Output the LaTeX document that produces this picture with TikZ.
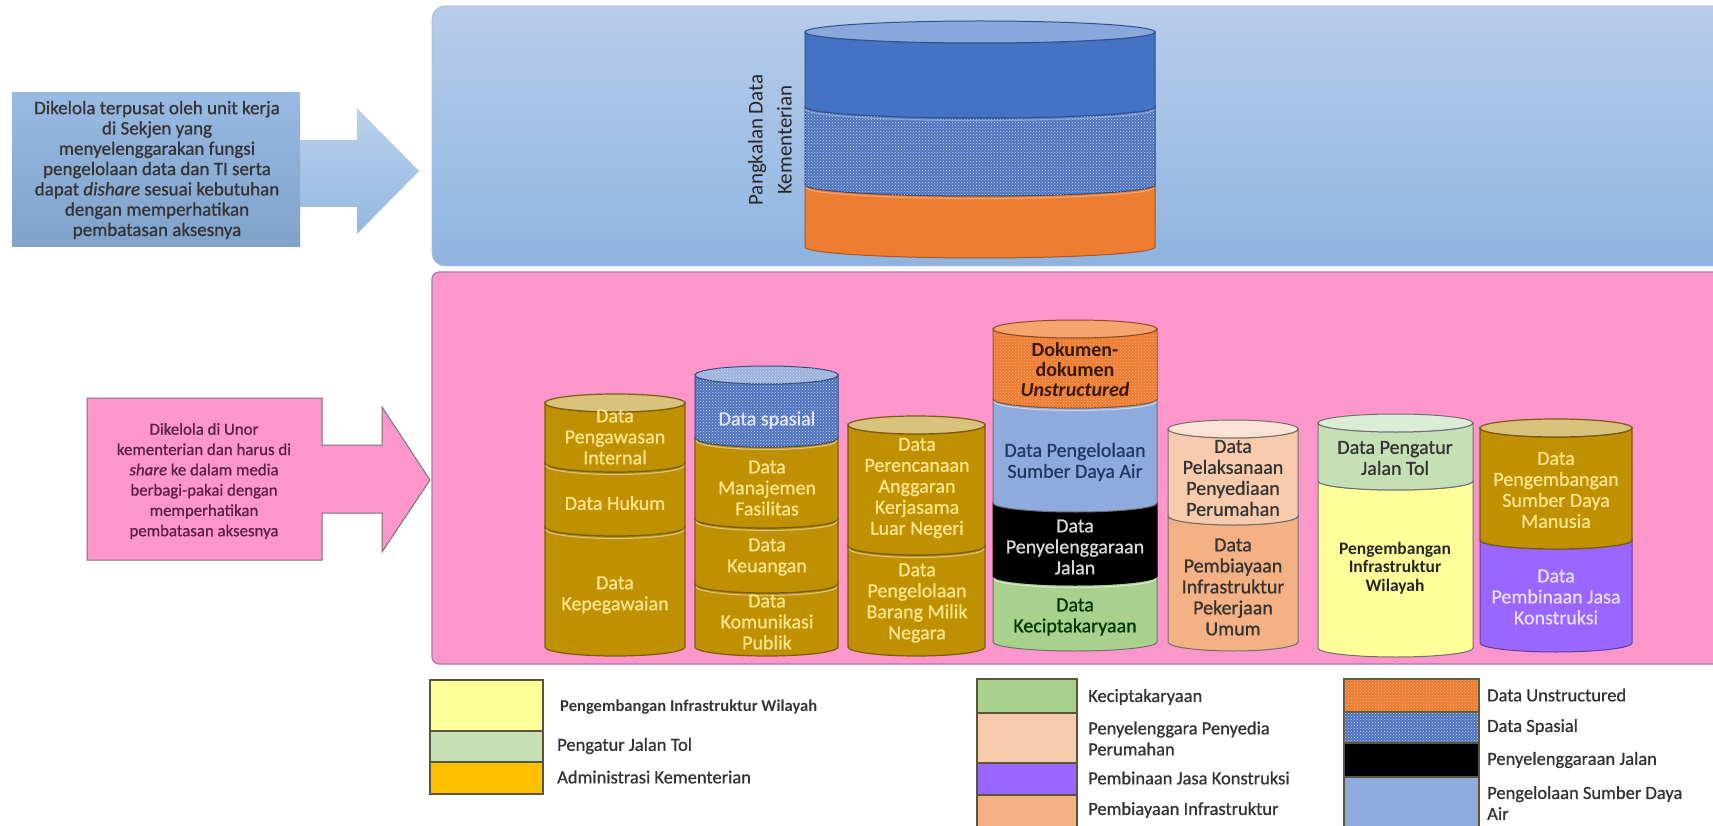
\documentclass[tikz,border=0pt]{standalone}
\usepackage{fontspec}
\setmainfont{Carlito}
\newfontfamily\medfont{Carlito}[FakeBold=0.8]
\usetikzlibrary{patterns}

% palette
\definecolor{panelTop}{HTML}{B7CDEA}
\definecolor{panelBot}{HTML}{8FB4E0}
\definecolor{pinkPanel}{HTML}{FD97CB}
\definecolor{pinkEdge}{HTML}{A07CA4}
\definecolor{pinkText}{HTML}{5A1E48}
\definecolor{goldBand}{HTML}{BF9000}
\definecolor{goldTop}{HTML}{D8C27C}
\definecolor{goldEdge}{HTML}{7A5C0A}
\definecolor{goldText}{HTML}{FFE58F}
\definecolor{goldLegend}{HTML}{FFC000}
\definecolor{darkBlue}{HTML}{4472C4}
\definecolor{darkBlueTop}{HTML}{8AA8DC}
\definecolor{spatBase}{HTML}{4D72BE}
\definecolor{spatDot}{HTML}{C9D8F2}
\definecolor{orangeU}{HTML}{ED7D31}
\definecolor{orangeTop}{HTML}{F4A46C}
\definecolor{orangeDot}{HTML}{F7AC7E}
\definecolor{unstrText}{HTML}{3A1800}
\definecolor{sdaBlue}{HTML}{8FAADC}
\definecolor{sdaText}{HTML}{1F3864}
\definecolor{ciptaGreen}{HTML}{A9D18E}
\definecolor{peach}{HTML}{F8CBAD}
\definecolor{peachTop}{HTML}{FBE3D3}
\definecolor{sandy}{HTML}{F4B183}
\definecolor{tollGreen}{HTML}{C5E0B4}
\definecolor{tollTop}{HTML}{DCEDD5}
\definecolor{paleYellow}{HTML}{FFFF99}
\definecolor{violet}{HTML}{9966FF}
\definecolor{violetText}{HTML}{E8DEFF}
\definecolor{greyEdge}{HTML}{6E6E6E}
\definecolor{legendEdge}{HTML}{5B5638}
\definecolor{bodyText}{HTML}{333333}

% one band of a stacked cylinder: left, right, upper edge y, lower edge y, ellipse y radius, style
\newcommand\cylband[6]{%
  \path[#6] (#1,-#3) -- (#1,-#4)
    arc[start angle=180,end angle=360,x radius={(#2-#1)/2},y radius=#5]
    -- (#2,-#3)
    arc[start angle=360,end angle=180,x radius={(#2-#1)/2},y radius=#5]
    -- cycle;}
% top face of a cylinder: left, right, y, y radius, style
\newcommand\cyltopface[5]{%
  \path[#5] ({(#1+#2)/2},-#3) ellipse[x radius={(#2-#1)/2},y radius=#4];}
% light seam just under a band joint: left, right, y, y radius, colour
\newcommand\cylseam[5]{%
  \draw[#5,line width=1.2] ({#1+1},{-#3-2.5})
    arc[start angle=180,end angle=360,x radius={(#2-#1)/2-1},y radius=#4];}

\begin{document}
\begin{tikzpicture}[x=1pt,y=1pt,
  cyltxt/.style={align=center,inner sep=0pt,font=\medfont\fontsize{20}{21}\selectfont},
  goldtxt/.style={cyltxt,text=goldText},
  darktxt/.style={cyltxt,text=bodyText},
  legtxt/.style={anchor=west,align=left,inner sep=0pt,text=bodyText,font=\medfont\fontsize{18.5}{21}\selectfont},
  goldb/.style={fill=goldBand,draw=goldEdge,line width=1.2},
  goldt/.style={fill=goldTop,draw=goldEdge,line width=1.2},
  spatb/.style={fill=spatBase,draw=spatBase!60!black,line width=1},
  spatdots/.style={pattern=crosshatch dots,pattern color=spatDot},
  orangedots/.style={pattern=crosshatch dots,pattern color=orangeDot},
  legbox/.style={draw=legendEdge,line width=1.2}]

\useasboundingbox (0,0) rectangle (1713,-826);
\clip (0,0) rectangle (1713,-826);
\fill[white] (0,0) rectangle (1713,-826);

% ---------- upper panel: central data store ----------
\path[top color=panelTop,bottom color=panelBot,draw=panelTop!80!gray,line width=0.8,rounded corners=13]
  (432,-6) rectangle (1740,-266);

% ---------- lower panel: data held by the units ----------
\path[fill=pinkPanel,draw=pinkEdge,line width=1.2,rounded corners=7]
  (432,-272) rectangle (1740,-664);

% ---------- left arrow callouts ----------
\path[top color=panelTop!95!white,bottom color=panelBot!95!white]
  (290,-140) -- (357,-140) -- (357,-108) -- (419,-171) -- (357,-234) -- (357,-207) -- (290,-207) -- cycle;
\path[top color=panelBot!92!white,bottom color=panelBot!90!black]
  (12,-93) rectangle (300,-247);
\node[align=center,inner sep=0pt,text=bodyText,font=\medfont\fontsize{19}{20.3}\selectfont]
  (note-central) at (157,-170)
  {Dikelola terpusat oleh unit kerja\\di Sekjen yang\\menyelenggarakan fungsi\\pengelolaan data dan TI serta\\dapat \textit{dishare} sesuai kebutuhan\\dengan memperhatikan\\pembatasan aksesnya};

\path[fill=pinkPanel,draw=greyEdge!80!pinkEdge,line width=1]
  (87,-398) -- (322,-398) -- (322,-445) -- (382,-445) -- (382,-407) -- (430,-480)
  -- (382,-552) -- (382,-513) -- (322,-513) -- (322,-560) -- (87,-560) -- cycle;
\node[align=center,inner sep=0pt,text=pinkText,font=\medfont\fontsize{16.8}{20.3}\selectfont]
  (note-unor) at (204,-481)
  {Dikelola di Unor\\kementerian dan harus di\\\textit{share} ke dalam media\\berbagi-pakai dengan\\memperhatikan\\pembatasan aksesnya};

% ---------- central cylinder ----------
\cylband{805}{1155}{185}{247}{11}{fill=orangeU,draw=orangeU!70!black,line width=1}
\cylband{805}{1155}{107}{185}{11}{spatb}
\cylband{805}{1155}{107}{185}{11}{spatdots}
\cylband{805}{1155}{32}{107}{11}{fill=darkBlue,draw=darkBlue!70!black,line width=1}
\cyltopface{805}{1155}{32}{11}{fill=darkBlueTop,draw=darkBlue!70!black,line width=1}
\cylseam{805}{1155}{107}{11}{darkBlueTop}
\cylseam{805}{1155}{185}{11}{orangeTop}
\node[rotate=90,align=center,inner sep=0pt,text=black!85,font=\fontsize{21}{29}\selectfont]
  (store-label) at (770,-140) {Pangkalan Data\\Kementerian};

% ---------- cylinder 1 ----------
\cylband{545}{685}{527}{647}{9}{goldb}
\cylband{545}{685}{463}{527}{9}{goldb}
\cylband{545}{685}{403}{463}{9}{goldb}
\cyltopface{545}{685}{403}{9}{goldt}
\cylseam{545}{685}{463}{9}{goldTop}
\cylseam{545}{685}{527}{9}{goldTop}
\node[goldtxt] (c1a) at (615,-437) {Data\\Pengawasan\\Internal};
\node[goldtxt] (c1b) at (615,-503) {Data Hukum};
\node[goldtxt] (c1c) at (615,-595) {Data\\Kepegawaian};

% ---------- cylinder 2 ----------
\cylband{695}{838}{584}{647}{9}{goldb}
\cylband{695}{838}{519}{584}{9}{goldb}
\cylband{695}{838}{438}{519}{9}{goldb}
\cylband{695}{838}{375}{438}{9}{spatb}
\cylband{695}{838}{375}{438}{9}{spatdots}
\cyltopface{695}{838}{375}{9}{fill=spatBase!55!white,draw=spatBase!60!black,line width=1}
\cyltopface{695}{838}{375}{9}{spatdots}
\cylseam{695}{838}{438}{9}{goldTop}
\cylseam{695}{838}{519}{9}{goldTop}
\cylseam{695}{838}{584}{9}{goldTop}
\node[cyltxt,text=white!90!blue] (c2a) at (767,-420) {Data spasial};
\node[goldtxt] (c2b) at (767,-488) {Data\\Manajemen\\Fasilitas};
\node[goldtxt] (c2c) at (767,-557) {Data\\Keuangan};
\node[goldtxt] (c2d) at (767,-622) {Data\\Komunikasi\\Publik};

% ---------- cylinder 3 ----------
\cylband{848}{985}{546}{647}{9}{goldb}
\cylband{848}{985}{425}{546}{9}{goldb}
\cyltopface{848}{985}{425}{9}{goldt}
\cylseam{848}{985}{546}{9}{goldTop}
\node[goldtxt] (c3a) at (917,-488) {Data\\Perencanaan\\Anggaran\\Kerjasama\\Luar Negeri};
\node[goldtxt] (c3b) at (917,-603) {Data\\Pengelolaan\\Barang Milik\\Negara};

% ---------- cylinder 4 ----------
\cylband{993}{1157}{576}{642}{9}{fill=ciptaGreen,draw=greyEdge,line width=1}
\cylband{993}{1157}{503}{576}{9}{fill=black,draw=black,line width=1}
\cylband{993}{1157}{399}{503}{9}{fill=sdaBlue,draw=greyEdge,line width=1}
\cylband{993}{1157}{329}{399}{9}{fill=orangeU,draw=orangeU!60!black,line width=1}
\cylband{993}{1157}{329}{399}{9}{orangedots}
\cyltopface{993}{1157}{329}{9}{fill=orangeTop,draw=orangeU!60!black,line width=1}
\cylseam{993}{1157}{399}{9}{sdaBlue!50!white}
\cylseam{993}{1157}{576}{9}{ciptaGreen!50!white}
\node[cyltxt,text=unstrText,font=\fontsize{20}{20}\selectfont\bfseries] (c4a) at (1075,-370)
  {Dokumen-\\dokumen\\\textit{Unstructured}};
\node[cyltxt,text=sdaText] (c4b) at (1075,-462) {Data Pengelolaan\\Sumber Daya Air};
\node[cyltxt,text=white!85!black] (c4c) at (1075,-547) {Data\\Penyelenggaraan\\Jalan};
\node[cyltxt,text=black!80!green] (c4d) at (1075,-617) {Data\\Keciptakaryaan};

% ---------- cylinder 5 ----------
\cylband{1168}{1298}{516}{642}{9}{fill=sandy,draw=greyEdge,line width=1}
\cylband{1168}{1298}{429}{516}{9}{fill=peach,draw=greyEdge,line width=1}
\cyltopface{1168}{1298}{429}{9}{fill=peachTop,draw=greyEdge,line width=1}
\node[darktxt] (c5a) at (1233,-478) {Data\\Pelaksanaan\\Penyediaan\\Perumahan};
\node[darktxt] (c5b) at (1233,-587) {Data\\Pembiayaan\\Infrastruktur\\Pekerjaan\\Umum};

% ---------- cylinder 6 ----------
\cylband{1318}{1473}{481}{648}{9}{fill=paleYellow,draw=greyEdge,line width=1}
\cylband{1318}{1473}{423}{481}{9}{fill=tollGreen,draw=greyEdge,line width=1}
\cyltopface{1318}{1473}{423}{9}{fill=tollTop,draw=greyEdge,line width=1}
\node[darktxt] (c6a) at (1395,-458) {Data Pengatur\\Jalan Tol};
\node[darktxt,font=\fontsize{17.5}{18.5}\selectfont\bfseries,text=black!85] (c6b) at (1395,-568)
  {Pengembangan\\Infrastruktur\\Wilayah};

% ---------- cylinder 7 ----------
\cylband{1480}{1632}{540}{643}{9}{fill=violet,draw=violet!60!black,line width=1}
\cylband{1480}{1632}{428}{540}{9}{goldb}
\cyltopface{1480}{1632}{428}{9}{goldt}
\node[goldtxt] (c7a) at (1556,-490) {Data\\Pengembangan\\Sumber Daya\\Manusia};
\node[cyltxt,text=violetText] (c7b) at (1556,-597) {Data\\Pembinaan Jasa\\Konstruksi};

% ---------- legend ----------
\path[legbox,fill=paleYellow]  (430,-680) rectangle (543,-731);
\path[legbox,fill=tollGreen]   (430,-731) rectangle (543,-762);
\path[legbox,fill=goldLegend]  (430,-762) rectangle (543,-794);
\node[legtxt,font=\fontsize{16.6}{20}\selectfont\bfseries,text=black!80] (l1a) at (560,-707)
  {Pengembangan Infrastruktur Wilayah};
\node[legtxt] (l1b) at (557,-746) {Pengatur Jalan Tol};
\node[legtxt] (l1c) at (557,-777) {Administrasi Kementerian};

\path[legbox,fill=ciptaGreen]  (977,-679) rectangle (1077,-713);
\path[legbox,fill=peach]       (977,-713) rectangle (1077,-763);
\path[legbox,fill=violet]      (977,-763) rectangle (1077,-795);
\path[legbox,fill=sandy]       (977,-795) rectangle (1077,-840);
\node[legtxt] (l2a) at (1088,-697) {Keciptakaryaan};
\node[legtxt] (l2b) at (1088,-738.5) {Penyelenggara Penyedia\\Perumahan};
\node[legtxt] (l2c) at (1088,-778) {Pembinaan Jasa Konstruksi};
\node[legtxt] (l2d) at (1088,-810) {Pembiayaan Infrastruktur};

\path[legbox,fill=orangeU]     (1344,-679) rectangle (1479,-712);
\path[orangedots]              (1344,-679) rectangle (1479,-712);
\path[legbox,fill=spatBase]    (1344,-712) rectangle (1479,-743);
\path[spatdots]                (1344,-712) rectangle (1479,-743);
\path[legbox,fill=black]       (1344,-743) rectangle (1479,-777);
\path[legbox,fill=sdaBlue]     (1344,-777) rectangle (1479,-840);
\node[legtxt] (l3a) at (1487,-695) {Data Unstructured};
\node[legtxt] (l3b) at (1487,-727) {Data Spasial};
\node[legtxt] (l3c) at (1487,-760) {Penyelenggaraan Jalan};
\node[legtxt] (l3d) at (1487,-803) {Pengelolaan Sumber Daya\\Air};

\end{tikzpicture}
\end{document}
